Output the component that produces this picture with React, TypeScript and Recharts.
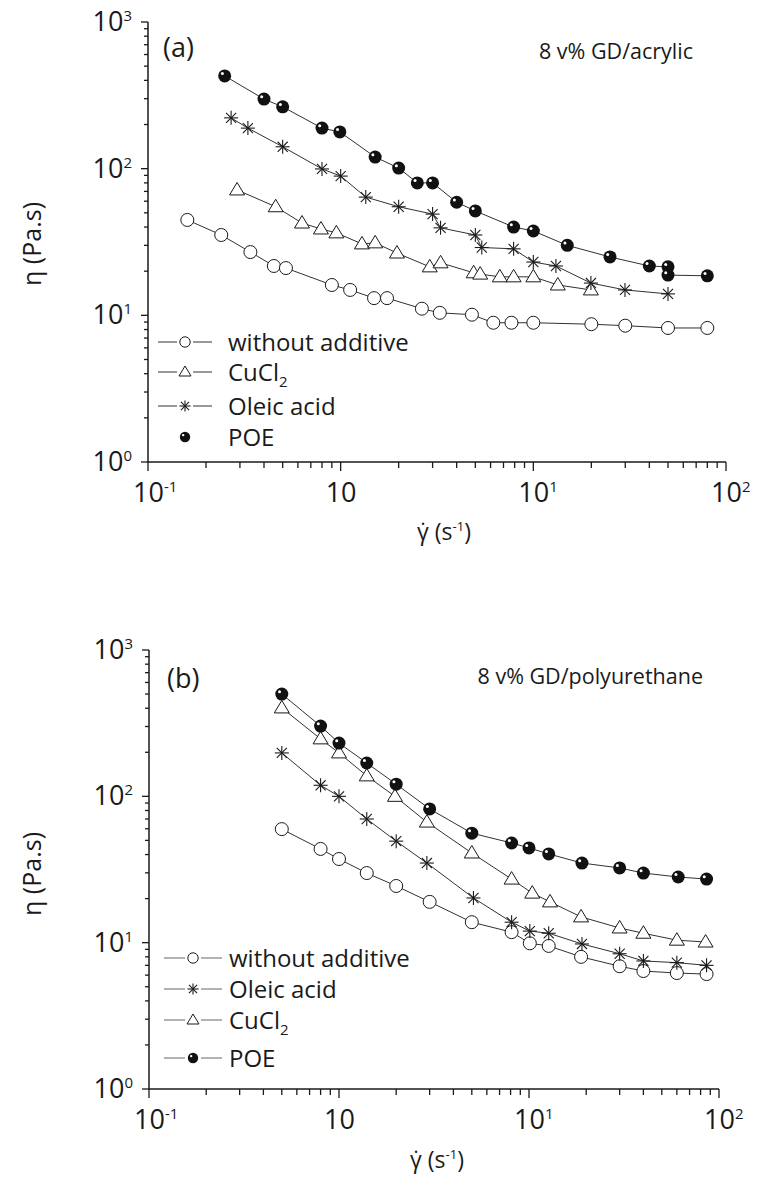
import React from 'react';
import { ComposedChart, Scatter, XAxis, YAxis } from 'recharts';

const FONT = '"Open Sans", "Noto Sans", sans-serif';
const INK = '#1a1a1a';

// (a) 8 v% GD/acrylic
const aPlainX = [0.16, 0.24, 0.34, 0.45, 0.52, 0.9, 1.12, 1.49, 1.74, 2.64, 3.27, 4.8, 6.2, 7.7, 10, 20, 30, 50, 80];
const aPlainY = [44.7, 35.3, 27, 21.7, 21, 16.1, 14.9, 13.1, 13.1, 11.1, 10.4, 10.1, 8.9, 8.9, 8.9, 8.7, 8.5, 8.2, 8.2];
const aCuX = [0.29, 0.46, 0.63, 0.79, 0.95, 1.29, 1.51, 1.96, 2.9, 3.3, 4.9, 5.3, 6.7, 7.9, 10, 13.4, 19.9];
const aCuY = [71.6, 55, 42.6, 38.8, 36.5, 30.7, 31.2, 26.6, 21.4, 22.8, 19.5, 19.1, 18.3, 18.3, 18.3, 16.1, 14.9];
const aOleicX = [0.27, 0.33, 0.5, 0.8, 1.0, 1.35, 2.0, 3.0, 3.3, 5.0, 5.4, 7.9, 10, 13.1, 19.9, 29.9, 50];
const aOleicY = [222, 189, 141, 99.6, 89, 64, 55, 49, 39.5, 35.3, 29, 28.4, 23.1, 21.7, 16.6, 14.9, 14.0];
const aPoeX = [0.25, 0.4, 0.5, 0.8, 0.99, 1.51, 2.0, 2.5, 3.0, 4.0, 5.0, 7.9, 10, 15, 25, 40, 50, 50, 80];
const aPoeY = [429, 298, 264, 189, 178, 120, 101, 80, 80, 59, 51.5, 40, 37.6, 30, 25, 21.7, 21.4, 18.8, 18.6];

// (b) 8 v% GD/polyurethane
const bPlainX = [0.5, 0.8, 1.0, 1.4, 2.0, 3.0, 5.0, 8.1, 10.1, 12.7, 18.8, 30, 40, 60, 86];
const bPlainY = [59.7, 43.7, 37.3, 29.9, 24.4, 19, 13.8, 11.8, 9.9, 9.5, 8.0, 6.9, 6.4, 6.2, 6.1];
const bOleicX = [0.5, 0.8, 1.0, 1.4, 2.0, 2.9, 5.1, 8.1, 10.1, 12.7, 19, 30, 40, 60, 86];
const bOleicY = [198, 119, 100, 70, 49.4, 35, 20.2, 13.8, 12.0, 11.6, 9.8, 8.4, 7.5, 7.3, 7.0];
const bCuX = [0.5, 0.8, 1.0, 1.4, 1.97, 2.9, 5.0, 8.1, 10.4, 12.9, 18.8, 30, 40, 60, 85];
const bCuY = [402, 247, 198, 138, 100, 66.7, 41, 27.2, 21.8, 19, 15, 12.6, 11.6, 10.4, 10.1];
const bPoeX = [0.5, 0.8, 1.0, 1.4, 2.0, 3.0, 5.0, 8.1, 10, 12.7, 19, 30, 40, 61, 86];
const bPoeY = [500, 302, 231, 169, 121, 82, 56, 48, 44.4, 40.4, 35, 32.4, 29.9, 28.1, 27.2];

const xMajor = [0.1, 1, 10, 100];
const xMajorLabels = [['10', '-1'], ['10', ''], ['10', '1'], ['10', '2']];
const yMajor = [1, 10, 100, 1000];
const yMajorLabels = [['10', '0'], ['10', '1'], ['10', '2'], ['10', '3']];
const minorSteps = [2, 3, 4, 5, 6, 7, 8, 9];

const withMinor = (majors: number[]) => {
  const out: number[] = [];
  majors.forEach((m, i) => {
    out.push(m);
    if (i < majors.length - 1) minorSteps.forEach((s) => out.push(m * s));
  });
  return out;
};
const xTicks = withMinor(xMajor);
const yTicks = withMinor(yMajor);

const zip = (xs: number[], ys: number[]) => xs.map((x, i) => ({ x, y: ys[i] }));

type Kind = 'circle' | 'triangle' | 'star' | 'ball';

const marker = (kind: Kind, cx: number, cy: number, s = 1) => {
  if (kind === 'circle') return <circle cx={cx} cy={cy} r={6.5 * s} fill="#fff" stroke={INK} strokeWidth={1} />;
  if (kind === 'triangle') {
    const d = `M${cx},${cy - 7.5 * s} L${cx + 7.5 * s},${cy + 5 * s} L${cx - 7.5 * s},${cy + 5 * s} Z`;
    return <path d={d} fill="#fff" stroke={INK} strokeWidth={1} />;
  }
  if (kind === 'star') {
    const r = 7 * s;
    const q = r * 0.72;
    return (
      <g stroke={INK} strokeWidth={1.1}>
        <line x1={cx} y1={cy - r} x2={cx} y2={cy + r} />
        <line x1={cx - r} y1={cy} x2={cx + r} y2={cy} />
        <line x1={cx - q} y1={cy - q} x2={cx + q} y2={cy + q} />
        <line x1={cx - q} y1={cy + q} x2={cx + q} y2={cy - q} />
      </g>
    );
  }
  return (
    <g>
      <circle cx={cx} cy={cy} r={6.5 * s} fill="#111" />
      <circle cx={cx - 2.3 * s} cy={cy - 2.4 * s} r={1.5 * s} fill="#fff" />
    </g>
  );
};

const supText = (parts: string[], x: number, y: number, anchor: 'start' | 'end') => (
  <text x={x} y={y} textAnchor={anchor} fontSize={27} fontFamily={FONT} fill={INK}>
    {parts[0]}
    {parts[1] && (
      <tspan dy={-10} fontSize={15}>
        {parts[1]}
      </tspan>
    )}
  </text>
);

const BottomTick = ({ x, y, payload }: any) => {
  const i = xMajor.indexOf(payload.value);
  return (
    <g>
      <line x1={x} x2={x} y1={y} y2={y + (i >= 0 ? 9 : 6)} stroke={INK} strokeWidth={1.3} />
      {i >= 0 && supText(xMajorLabels[i], x - 15, y + 40, 'start')}
    </g>
  );
};

const TopTick = ({ x, y, payload }: any) => {
  const major = xMajor.includes(payload.value);
  return <line x1={x} x2={x} y1={y} y2={y + (major ? 8 : 5)} stroke={INK} strokeWidth={1.3} />;
};

const LeftTick = ({ x, y, payload }: any) => {
  const i = yMajor.indexOf(payload.value);
  return (
    <g>
      <line x1={x - (i >= 0 ? 7 : 4)} x2={x} y1={y} y2={y} stroke={INK} strokeWidth={1.3} />
      {i >= 0 && supText(yMajorLabels[i], x - 16, y + 9, 'end')}
    </g>
  );
};

const RightTick = ({ x, y, payload }: any) => {
  const major = yMajor.includes(payload.value);
  return <line x1={x - (major ? 6 : 4)} x2={x} y1={y} y2={y} stroke={INK} strokeWidth={1.3} />;
};

type SeriesDef = { name: string; kind: Kind; data: { x: number; y: number }[]; legendLine: boolean };

type PanelDef = {
  top: number;
  height: number;
  plot: { left: number; right: number; top: number; bottom: number };
  letter: string;
  letterPos: [number, number];
  title: string;
  titlePos: [number, number];
  yLabelPos: [number, number];
  xLabelPos: [number, number];
  series: SeriesDef[];
  legendOrder: number[];
  legendRows: number[];
  legendLineX: [number, number];
  legendMarkX: number;
  legendTextX: number;
  legendLineColor: string;
};

const legendName = (name: string) =>
  name === 'CuCl2' ? (
    <>
      CuCl
      <tspan dy={6} fontSize={15}>
        2
      </tspan>
    </>
  ) : (
    name
  );

const Decor = ({ p }: { p: PanelDef }) => (
  <g fontFamily={FONT} fill={INK}>
    <text x={p.letterPos[0]} y={p.letterPos[1]} fontSize={27}>
      {p.letter}
    </text>
    <text x={p.titlePos[0]} y={p.titlePos[1]} fontSize={21.5} textAnchor="end">
      {p.title}
    </text>
    <text
      x={p.yLabelPos[0]}
      y={p.yLabelPos[1]}
      fontSize={25}
      textAnchor="middle"
      dominantBaseline="central"
      transform={`rotate(-90 ${p.yLabelPos[0]} ${p.yLabelPos[1]})`}
    >
      {'\u03B7 (Pa.s)'}
    </text>
    <text x={p.xLabelPos[0]} y={p.xLabelPos[1]} fontSize={23} textAnchor="middle">
      {'\u03B3\u0307 (s'}
      <tspan dy={-9} fontSize={13}>
        -1
      </tspan>
      <tspan dy={9}>)</tspan>
    </text>
    {p.legendOrder.map((si, row) => {
      const s = p.series[si];
      const y = p.legendRows[row];
      return (
        <g key={s.name}>
          {s.legendLine && (
            <>
              <line x1={p.legendLineX[0]} x2={p.legendMarkX - 8} y1={y} y2={y} stroke={p.legendLineColor} strokeWidth={1} />
              <line x1={p.legendMarkX + 8} x2={p.legendLineX[1]} y1={y} y2={y} stroke={p.legendLineColor} strokeWidth={1} />
            </>
          )}
          {marker(s.kind, p.legendMarkX, y, 0.8)}
          <text x={p.legendTextX} y={y + 8.5} fontSize={24}>
            {legendName(s.name)}
          </text>
        </g>
      );
    })}
  </g>
);

const panelA: PanelDef = {
  top: 0,
  height: 570,
  plot: { left: 148, right: 726, top: 22, bottom: 462 },
  letter: '(a)',
  letterPos: [163, 57],
  title: '8 v% GD/acrylic',
  titlePos: [693, 59],
  yLabelPos: [31, 244],
  xLabelPos: [444, 540],
  series: [
    { name: 'without additive', kind: 'circle', data: zip(aPlainX, aPlainY), legendLine: true },
    { name: 'CuCl2', kind: 'triangle', data: zip(aCuX, aCuY), legendLine: true },
    { name: 'Oleic acid', kind: 'star', data: zip(aOleicX, aOleicY), legendLine: true },
    { name: 'POE', kind: 'ball', data: zip(aPoeX, aPoeY), legendLine: false },
  ],
  legendOrder: [0, 1, 2, 3],
  legendRows: [342, 372, 406, 437],
  legendLineX: [158, 212],
  legendMarkX: 185,
  legendTextX: 228,
  legendLineColor: '#333',
};

const panelB: PanelDef = {
  top: 580,
  height: 600,
  plot: { left: 149, right: 719, top: 70, bottom: 509 },
  letter: '(b)',
  letterPos: [167, 108],
  title: '8 v% GD/polyurethane',
  titlePos: [703, 104],
  yLabelPos: [31, 294],
  xLabelPos: [437, 588],
  series: [
    { name: 'without additive', kind: 'circle', data: zip(bPlainX, bPlainY), legendLine: true },
    { name: 'Oleic acid', kind: 'star', data: zip(bOleicX, bOleicY), legendLine: true },
    { name: 'CuCl2', kind: 'triangle', data: zip(bCuX, bCuY), legendLine: true },
    { name: 'POE', kind: 'ball', data: zip(bPoeX, bPoeY), legendLine: true },
  ],
  legendOrder: [0, 1, 2, 3],
  legendRows: [378, 409, 440, 478],
  legendLineX: [164, 222],
  legendMarkX: 193,
  legendTextX: 229,
  legendLineColor: '#666',
};

const Panel = ({ p }: { p: PanelDef }) => {
  const W = 757;
  return (
    <div style={{ position: 'absolute', left: 0, top: p.top }}>
      <ComposedChart
        width={W}
        height={p.height}
        margin={{ top: p.plot.top, right: W - p.plot.right, bottom: 0, left: 0 }}
      >
        <XAxis
          dataKey="x"
          type="number"
          scale="log"
          domain={[0.1, 100]}
          allowDataOverflow
          ticks={xTicks}
          interval={0}
          height={p.height - p.plot.bottom}
          tickSize={0}
          tickMargin={0}
          tick={<BottomTick />}
          tickLine={false}
          axisLine={{ stroke: INK, strokeWidth: 1.5 }}
          label={{ content: () => <Decor p={p} /> }}
        />
        <XAxis
          xAxisId="top"
          orientation="top"
          dataKey="x"
          type="number"
          scale="log"
          domain={[0.1, 100]}
          allowDataOverflow
          ticks={xTicks}
          interval={0}
          height={0}
          tickSize={0}
          tickMargin={0}
          tick={<TopTick />}
          tickLine={false}
          axisLine={{ stroke: INK, strokeWidth: 1.5 }}
        />
        <YAxis
          dataKey="y"
          type="number"
          scale="log"
          domain={[1, 1000]}
          allowDataOverflow
          ticks={yTicks}
          interval={0}
          width={p.plot.left}
          tickSize={0}
          tickMargin={0}
          tick={<LeftTick />}
          tickLine={false}
          axisLine={{ stroke: INK, strokeWidth: 1.5 }}
        />
        <YAxis
          yAxisId="right"
          orientation="right"
          dataKey="y"
          type="number"
          scale="log"
          domain={[1, 1000]}
          allowDataOverflow
          ticks={yTicks}
          interval={0}
          width={0}
          tickSize={0}
          tickMargin={0}
          tick={<RightTick />}
          tickLine={false}
          axisLine={{ stroke: INK, strokeWidth: 1.5 }}
        />
        {p.series.map((s) => (
          <Scatter
            key={s.name}
            name={s.name}
            data={s.data}
            line={{ stroke: INK, strokeWidth: 0.9 }}
            shape={(props: any) => marker(s.kind, props.cx, props.cy)}
            isAnimationActive={false}
          />
        ))}
      </ComposedChart>
    </div>
  );
};

export default function App() {
  return (
    <div style={{ position: 'absolute', left: 0, top: 0, width: 757, height: 1180, background: '#fff' }}>
      <Panel p={panelA} />
      <Panel p={panelB} />
    </div>
  );
}
